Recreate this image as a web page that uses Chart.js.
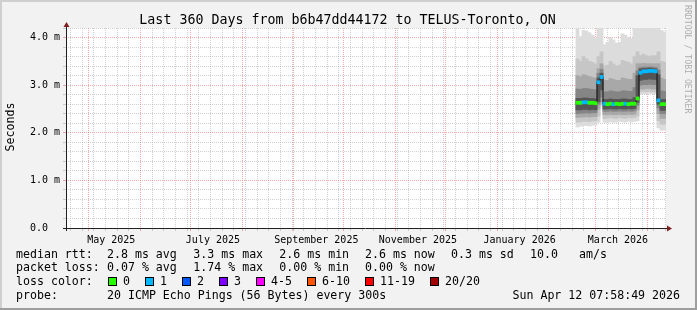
<!DOCTYPE html>
<html>
<head>
<meta charset="utf-8">
<script src="https://cdn.jsdelivr.net/npm/chart.js@4.4.1/dist/chart.umd.min.js"></script>
<style>
  html, body { margin: 0; padding: 0; background: #f2f2f2; }
  canvas { display: block; }
</style>
</head>
<body>
<canvas id="smokeChart" width="697" height="310"></canvas>
<script>
// Bucket centres, in days since the start of the 360 day range
const days = [306.9, 308.7, 310.5, 312.3, 314.1, 315.9, 317.7, 319.5, 321.3, 323.1,
              324.9, 326.7, 328.5, 330.3, 332.1, 333.9, 335.7, 337.5, 339.3, 341.1,
              342.9, 344.7, 346.5, 348.3, 350.1, 351.9, 353.7, 355.5, 357.3, 359.1];

// Median rtt (ms) and lost pings (of 20) per bucket
const median = [2.63, 2.63, 2.64, 2.64, 2.63, 2.63, 2.62, 3.06, 3.17, 2.61,
                2.60, 2.61, 2.60, 2.61, 2.60, 2.61, 2.61, 2.60, 2.61, 2.61,
                2.72, 3.26, 3.29, 3.29, 3.30, 3.30, 3.29, 2.68, 2.60, 2.60];
const lossCount = [0, 0, 1, 1, 0, 0, 0, 1, 1, 1,
                   0, 0, 1, 0, 0, 0, 1, 0, 0, 0,
                   0, 1, 1, 1, 1, 1, 1, 1, 0, 0];

// Smoke bands (ms), outermost (A) to innermost (E)
const smokeALo = [2.12, 2.14, 2.15, 2.15, 2.14, 2.16, 2.16, 2.22, 2.56, 2.22, 2.22, 2.23, 2.22, 2.22, 2.24, 2.23, 2.22, 2.24, 2.23, 2.24, 2.25, 2.81, 2.82, 2.82, 2.83, 2.82, 2.82, 2.10, 2.05, 2.06];
const smokeAHi = [4.20, 4.02, 4.15, 4.14, 4.10, 4.05, 3.98, 4.20, 4.20, 3.85, 3.90, 4.00, 3.95, 3.88, 3.90, 4.08, 4.05, 4.00, 3.98, 4.20, 4.20, 4.20, 4.20, 4.20, 4.20, 4.20, 4.20, 4.20, 4.15, 4.12];
const smokeBLo = [2.22, 2.23, 2.24, 2.24, 2.23, 2.25, 2.25, 2.35, 2.60, 2.30, 2.31, 2.32, 2.31, 2.30, 2.32, 2.31, 2.30, 2.32, 2.31, 2.32, 2.35, 2.86, 2.87, 2.86, 2.87, 2.86, 2.86, 2.25, 2.18, 2.18];
const smokeBHi = [3.55, 3.50, 3.60, 3.55, 3.50, 3.48, 3.45, 3.60, 3.70, 3.40, 3.42, 3.50, 3.45, 3.40, 3.42, 3.52, 3.50, 3.48, 3.45, 3.60, 3.70, 3.62, 3.65, 3.62, 3.60, 3.62, 3.62, 3.70, 3.50, 3.48];
const smokeCLo = [2.32, 2.33, 2.33, 2.34, 2.33, 2.34, 2.34, 2.50, 2.65, 2.38, 2.38, 2.39, 2.38, 2.38, 2.39, 2.38, 2.38, 2.39, 2.38, 2.39, 2.48, 2.92, 2.92, 2.93, 2.93, 2.92, 2.92, 2.40, 2.30, 2.30];
const smokeCHi = [3.20, 3.18, 3.22, 3.20, 3.18, 3.16, 3.15, 3.35, 3.45, 3.10, 3.10, 3.14, 3.12, 3.10, 3.10, 3.15, 3.14, 3.12, 3.12, 3.25, 3.45, 3.45, 3.46, 3.45, 3.45, 3.45, 3.45, 3.45, 3.15, 3.12];
const smokeDLo = [2.40, 2.41, 2.41, 2.42, 2.41, 2.42, 2.42, 2.60, 2.75, 2.45, 2.45, 2.46, 2.45, 2.45, 2.46, 2.45, 2.45, 2.46, 2.45, 2.46, 2.58, 3.00, 3.01, 3.01, 3.02, 3.01, 3.01, 2.52, 2.40, 2.40];
const smokeDHi = [2.92, 2.91, 2.93, 2.93, 2.92, 2.91, 2.90, 3.25, 3.33, 2.86, 2.86, 2.88, 2.87, 2.86, 2.86, 2.88, 2.88, 2.87, 2.87, 2.95, 3.30, 3.37, 3.38, 3.38, 3.38, 3.38, 3.37, 3.32, 2.88, 2.87];
const smokeELo = [2.48, 2.48, 2.49, 2.49, 2.48, 2.49, 2.48, 2.65, 2.90, 2.50, 2.50, 2.51, 2.50, 2.50, 2.51, 2.50, 2.50, 2.51, 2.50, 2.51, 2.64, 3.10, 3.12, 3.12, 3.13, 3.12, 3.12, 2.60, 2.47, 2.47];
const smokeEHi = [2.72, 2.72, 2.73, 2.73, 2.72, 2.72, 2.71, 3.15, 3.25, 2.70, 2.70, 2.71, 2.70, 2.70, 2.70, 2.71, 2.71, 2.70, 2.70, 2.74, 3.20, 3.34, 3.35, 3.35, 3.36, 3.35, 3.34, 3.22, 2.70, 2.70];

// Axis labels
const yMajorValues = [0, 1, 2, 3, 4];
const yTickLabels = ['0.0  ', '1.0 m', '2.0 m', '3.0 m', '4.0 m'];
const labelMonths = [[2025, 4], [2025, 6], [2025, 8], [2025, 10], [2026, 0], [2026, 2]];
const monthLabels = ['May 2025', 'July 2025', 'September 2025', 'November 2025', 'January 2026', 'March 2026'];

// Legend texts
const titleText = 'Last 360 Days from b6b47dd44172 to TELUS-Toronto, ON';
const rttRow = ['median rtt:', '2.8 ms avg', '3.3 ms max', '2.6 ms min', '2.6 ms now', '0.3 ms sd', '10.0', 'am/s'];
const lossRow = ['packet loss:', '0.07 % avg', '1.74 % max', '0.00 % min', '0.00 % now'];
const lossLabels = ['0', '1', '2', '3', '4-5', '6-10', '11-19', '20/20'];
const lossColors = ['#26ff00', '#00b8ff', '#0059ff', '#7e00ff', '#ff00ff', '#ff5500', '#ff0000', '#a00000'];
const lossUpper = [0, 1, 2, 3, 5, 10, 19, 20];
const probeText = '20 ICMP Echo Pings (56 Bytes) every 300s';
const stampText = 'Sun Apr 12 07:58:49 2026';

const X_MIN = 0, X_MAX = 360;
const RANGE_START = Date.UTC(2025, 3, 17, 7, 58, 49);
const DAY_MS = 86400000;
const LABEL_OFFSET = 13.5;
const MONO = '"DejaVu Sans Mono", monospace';
const GRID_MINOR = 'rgba(150,150,150,0.45)';
const GRID_MAJOR = 'rgba(230,90,90,0.5)';

function dayOf(y, m, d) {
    return (Date.UTC(y, m, d) - RANGE_START) / DAY_MS;
}

function colorForLoss(n) {
    const idx = lossUpper.findIndex(u => n <= u);
    return lossColors[idx < 0 ? lossColors.length - 1 : idx];
}

// Weekly minor lines, monthly major lines, labels every second month
function buildXTicks() {
    const ticks = [];
    const monthDays = [];
    for (let m = 4; m <= 15; m++) {
        monthDays.push(dayOf(2025 + Math.floor(m / 12), m % 12, 1));
    }
    monthDays.forEach(v => ticks.push({ value: v, kind: 'major' }));
    for (let t = Date.UTC(2025, 3, 20); t <= Date.UTC(2026, 3, 12); t += 7 * DAY_MS) {
        const v = (t - RANGE_START) / DAY_MS;
        if (v < X_MIN || v > X_MAX) continue;
        if (monthDays.some(md => Math.abs(md - v) < 0.01)) continue;
        ticks.push({ value: v, kind: 'minor' });
    }
    labelMonths.forEach(([y, m], i) => {
        ticks.push({ value: dayOf(y, m, 1) + LABEL_OFFSET, kind: 'label', lbl: monthLabels[i] });
    });
    return ticks.sort((a, b) => a.value - b.value);
}

function buildYTicks() {
    const ticks = [];
    for (let k = 0; k <= 21; k++) {
        const v = Math.round(k * 2) / 10;
        const mi = yMajorValues.indexOf(v);
        ticks.push({ value: v, kind: mi >= 0 ? 'major' : 'minor', lbl: mi >= 0 ? yTickLabels[mi] : '' });
    }
    return ticks;
}

function gridColor(ctx) {
    if (!ctx.tick) return 'transparent';
    if (ctx.tick.kind === 'major') return GRID_MAJOR;
    if (ctx.tick.kind === 'minor') return GRID_MINOR;
    return 'transparent';
}

function bandDataset(lo, hi, color, order) {
    return {
        type: 'bar',
        data: days.map((d, i) => ({ x: d, y: [lo[i], hi[i]] })),
        backgroundColor: color,
        borderWidth: 0,
        barThickness: 3.2,
        grouped: false,
        order: order
    };
}

// Frame, title, axes, legend and watermark in the rrdtool look
const rrdDecor = {
    id: 'rrdDecor',
    beforeDraw(chart) {
        const { ctx, chartArea: a } = chart;
        ctx.save();
        ctx.fillStyle = '#f2f2f2';
        ctx.fillRect(0, 0, chart.width, chart.height);
        ctx.fillStyle = '#ffffff';
        ctx.fillRect(a.left, a.top, a.right - a.left, a.bottom - a.top);
        ctx.restore();
    },
    afterDraw(chart) {
        const { ctx, chartArea: a } = chart;
        const W = chart.width, H = chart.height;
        ctx.save();

        // axes with arrows
        const yb = a.bottom + 0.5, xl = a.left + 0.5;
        ctx.strokeStyle = '#1f1f1f';
        ctx.lineWidth = 1;
        ctx.beginPath();
        ctx.moveTo(a.left - 3, yb); ctx.lineTo(a.right + 2, yb);
        ctx.moveTo(xl, a.bottom + 3); ctx.lineTo(xl, a.top - 2);
        ctx.stroke();
        ctx.fillStyle = '#801f1f';
        ctx.beginPath();
        ctx.moveTo(a.right + 1, yb - 3); ctx.lineTo(a.right + 6, yb); ctx.lineTo(a.right + 1, yb + 3);
        ctx.fill();
        ctx.beginPath();
        ctx.moveTo(xl - 3, a.top - 1); ctx.lineTo(xl, a.top - 6); ctx.lineTo(xl + 3, a.top - 1);
        ctx.fill();

        // title
        ctx.fillStyle = '#000';
        ctx.font = '13.3px ' + MONO;
        ctx.textAlign = 'center';
        ctx.textBaseline = 'alphabetic';
        ctx.fillText(titleText, 347.5, 23.5);

        // y axis title
        ctx.save();
        ctx.translate(11, 127);
        ctx.rotate(-Math.PI / 2);
        ctx.font = '11.6px ' + MONO;
        ctx.textBaseline = 'middle';
        ctx.fillText('Seconds', 0, 0);
        ctx.restore();

        // legend rows
        ctx.font = '11.6px ' + MONO;
        ctx.textAlign = 'left';
        ctx.textBaseline = 'alphabetic';
        const colX = [16, 107, 193.3, 279.3, 365, 451, 530, 579];
        const base = [257.5, 271.2, 284.9, 298.6];
        rttRow.forEach((t, i) => ctx.fillText(t, colX[i], base[0]));
        lossRow.forEach((t, i) => ctx.fillText(t, colX[i], base[1]));
        ctx.fillText('loss color:', 16, base[2]);
        const boxX = [108, 145, 182, 219, 256, 307, 365, 430];
        lossLabels.forEach((t, i) => {
            ctx.fillStyle = lossColors[i];
            ctx.fillRect(boxX[i], 277, 9, 9);
            ctx.strokeStyle = '#000';
            ctx.strokeRect(boxX[i] + 0.5, 277.5, 8, 8);
            ctx.fillStyle = '#000';
            ctx.fillText(t, boxX[i] + 15, base[2]);
        });
        ctx.fillText('probe:', 16, base[3]);
        ctx.fillText(probeText, 107, base[3]);
        ctx.textAlign = 'right';
        ctx.fillText(stampText, 680, base[3]);

        // watermark
        ctx.save();
        ctx.translate(687.5, 5);
        ctx.rotate(Math.PI / 2);
        ctx.font = '8.2px ' + MONO;
        ctx.textAlign = 'left';
        ctx.textBaseline = 'middle';
        ctx.fillStyle = 'rgba(0,0,0,0.3)';
        ctx.fillText('RRDTOOL / TOBI OETIKER', 0, 0);
        ctx.restore();

        // 3D frame
        ctx.fillStyle = '#cfcfcf';
        ctx.fillRect(0, 0, W, 2);
        ctx.fillRect(0, 0, 2, H);
        ctx.fillStyle = '#9e9e9e';
        ctx.fillRect(0, H - 2, W, 2);
        ctx.fillRect(W - 2, 0, 2, H);
        ctx.restore();
    }
};

function drawChart() {
    const ctx = document.getElementById('smokeChart').getContext('2d');
    Chart.defaults.font.family = MONO;

    new Chart(ctx, {
        type: 'bar',
        data: {
            datasets: [
                {
                    type: 'bar',
                    data: days.map((d, i) => ({ x: d, y: [median[i] - 0.032, median[i] + 0.032] })),
                    backgroundColor: lossCount.map(colorForLoss),
                    borderWidth: 0,
                    barThickness: 3.2,
                    grouped: false,
                    order: 0
                },
                {
                    type: 'line',
                    data: days.map((d, i) => ({ x: d, y: median[i] })),
                    borderColor: '#101010',
                    borderWidth: 1,
                    pointRadius: 0,
                    stepped: 'middle',
                    fill: false,
                    order: 1
                },
                bandDataset(smokeELo, smokeEHi, '#555555', 2),
                bandDataset(smokeDLo, smokeDHi, '#858585', 3),
                bandDataset(smokeCLo, smokeCHi, '#a8a8a8', 4),
                bandDataset(smokeBLo, smokeBHi, '#c6c6c6', 5),
                bandDataset(smokeALo, smokeAHi, '#dcdcdc', 6)
            ]
        },
        options: {
            responsive: false,
            animation: false,
            devicePixelRatio: 1,
            layout: { padding: { left: 0, top: 28, right: 31, bottom: 62 } },
            plugins: { legend: { display: false }, tooltip: { enabled: false }, title: { display: false } },
            scales: {
                x: {
                    type: 'linear',
                    min: X_MIN,
                    max: X_MAX,
                    offset: false,
                    z: 1,
                    afterBuildTicks: s => { s.ticks = buildXTicks(); },
                    afterFit: s => { s.height = 20; },
                    grid: { offset: false, color: gridColor, tickLength: 3, lineWidth: 1 },
                    border: { display: false, dash: [1, 1] },
                    ticks: {
                        autoSkip: false,
                        maxRotation: 0,
                        minRotation: 0,
                        padding: 3,
                        color: '#000',
                        font: { family: MONO, size: 10 },
                        callback: (v, i, ticks) => ticks[i].lbl || ''
                    }
                },
                y: {
                    type: 'linear',
                    min: 0,
                    max: 4.2,
                    z: 1,
                    afterBuildTicks: s => { s.ticks = buildYTicks(); },
                    afterFit: s => { s.width = 66; },
                    grid: { color: gridColor, tickLength: 3, lineWidth: 1 },
                    border: { display: false, dash: [1, 1] },
                    ticks: {
                        autoSkip: false,
                        padding: 3,
                        color: '#000',
                        font: { family: MONO, size: 10 },
                        callback: (v, i, ticks) => ticks[i].lbl || ''
                    }
                }
            }
        },
        plugins: [rrdDecor]
    });
}

drawChart();
</script>
</body>
</html>
